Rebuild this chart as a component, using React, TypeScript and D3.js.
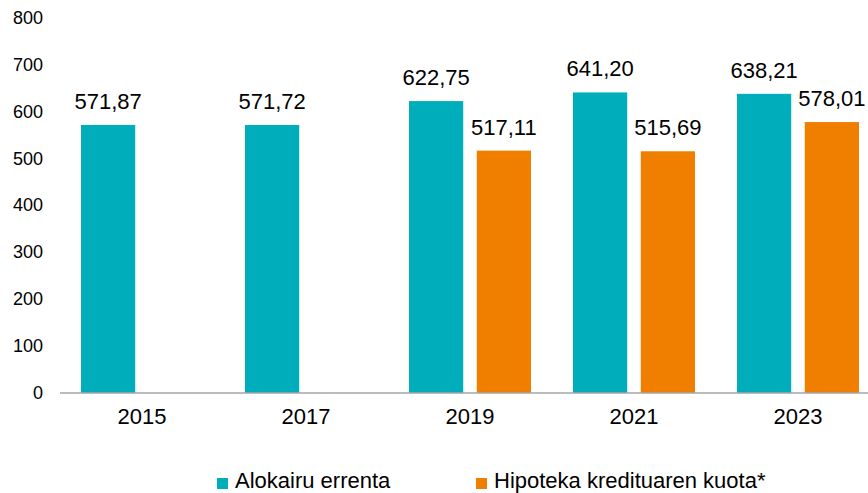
import { useRef, useEffect } from "react";
import * as d3 from "d3";

const years = ["2015", "2017", "2019", "2021", "2023"];
const rent = [571.87, 571.72, 622.75, 641.2, 638.21];
const mortgage: (number | null)[] = [null, null, 517.11, 515.69, 578.01];
const seriesNames = ["Alokairu errenta", "Hipoteka kredituaren kuota*"];
const yTicks = [0, 100, 200, 300, 400, 500, 600, 700, 800];

const colors = ["#00ADBA", "#F07F00"];
const fmt = (v: number) => v.toFixed(2).replace(".", ",");

export default function App() {
  const ref = useRef<SVGSVGElement | null>(null);

  useEffect(() => {
    const svg = d3.select(ref.current);
    svg.selectAll("*").remove();

    const width = 868;
    const height = 493;
    const font = "'Liberation Sans', Arial, sans-serif";

    const x = d3.scaleBand().domain(years).range([60, 880]);
    const y = d3.scaleLinear().domain([0, 800]).range([393, 18]);
    const inner = d3.scaleBand().domain(["0", "1"]).range([21, 143]).paddingInner(0.2);

    // y tick labels
    svg
      .append("g")
      .selectAll("text")
      .data(yTicks)
      .join("text")
      .attr("x", 43)
      .attr("y", (d) => y(d))
      .attr("dy", "0.33em")
      .attr("text-anchor", "end")
      .attr("font-family", font)
      .attr("font-size", 18)
      .attr("fill", "#000")
      .text((d) => d);

    const series = [rent, mortgage];
    series.forEach((vals, si) => {
      const data = years
        .map((yr, i) => ({ yr, v: vals[i] }))
        .filter((d) => d.v != null) as { yr: string; v: number }[];
      const g = svg.append("g");
      g.selectAll("rect")
        .data(data)
        .join("rect")
        .attr("x", (d) => x(d.yr)! + inner(String(si))!)
        .attr("y", (d) => y(d.v))
        .attr("width", inner.bandwidth())
        .attr("height", (d) => y(0) - y(d.v))
        .attr("fill", colors[si]);
      g.selectAll("text")
        .data(data)
        .join("text")
        .attr("x", (d) => x(d.yr)! + inner(String(si))! + inner.bandwidth() / 2)
        .attr("y", (d) => y(d.v) - 16)
        .attr("text-anchor", "middle")
        .attr("font-family", font)
        .attr("font-size", 22)
        .attr("fill", "#000")
        .text((d) => fmt(d.v));
    });

    // axis line
    svg
      .append("line")
      .attr("x1", 60)
      .attr("x2", width)
      .attr("y1", y(0))
      .attr("y2", y(0))
      .attr("stroke", "#A6A6A6")
      .attr("stroke-width", 1.5);

    // x labels
    svg
      .append("g")
      .selectAll("text")
      .data(years)
      .join("text")
      .attr("x", (d) => x(d)! + x.bandwidth() / 2)
      .attr("y", 424)
      .attr("text-anchor", "middle")
      .attr("font-family", font)
      .attr("font-size", 22)
      .attr("fill", "#000")
      .text((d) => d);

    // legend
    const legendX = [217, 476];
    const lg = svg
      .append("g")
      .selectAll("g")
      .data(seriesNames)
      .join("g")
      .attr("transform", (_, i) => `translate(${legendX[i]},0)`);
    lg.append("rect")
      .attr("x", 0)
      .attr("y", 478)
      .attr("width", 11)
      .attr("height", 11)
      .attr("fill", (_, i) => colors[i]);
    lg.append("text")
      .attr("x", 18)
      .attr("y", 488)
      .attr("font-family", font)
      .attr("font-size", 22)
      .attr("fill", "#000")
      .text((d) => d);

    svg.attr("width", width).attr("height", height);
  }, []);

  return (
    <svg
      ref={ref}
      width={868}
      height={493}
      style={{ position: "absolute", left: 0, top: 0 }}
    ></svg>
  );
}
